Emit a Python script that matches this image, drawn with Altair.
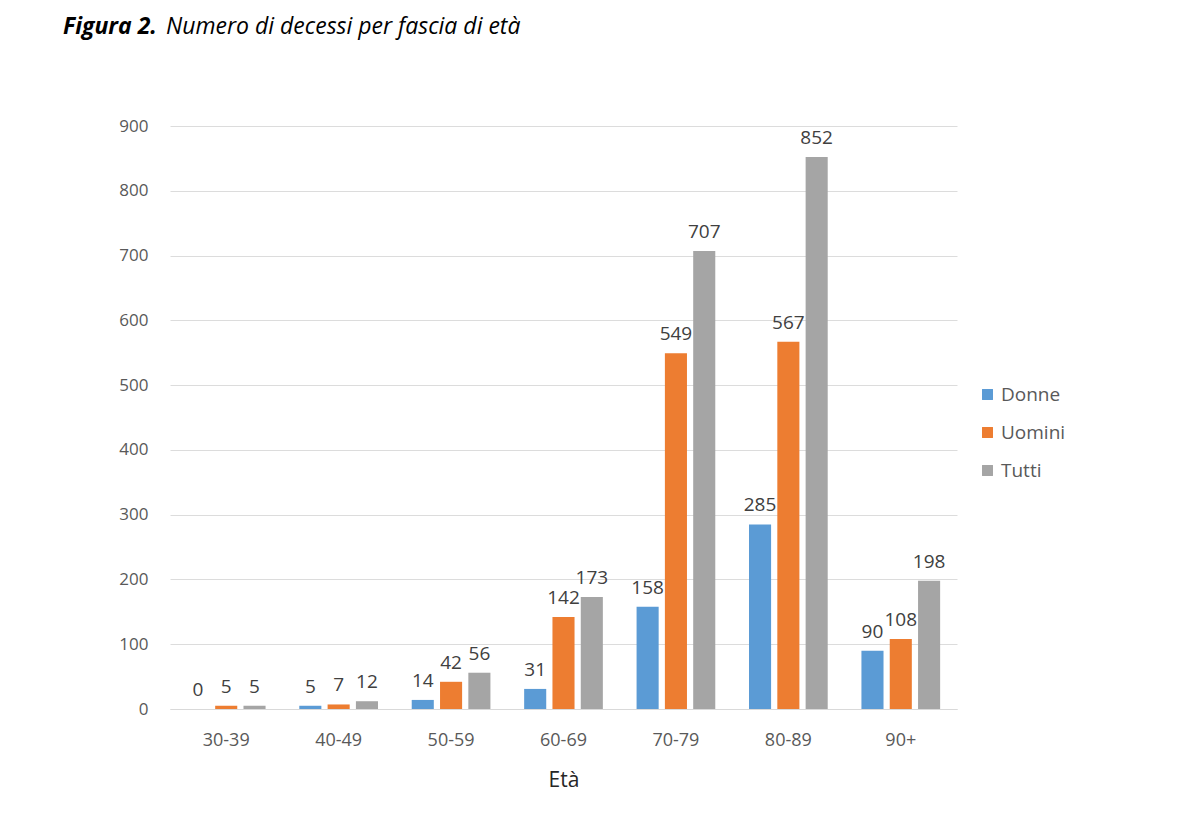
import altair as alt
import pandas as pd

categories = ["30-39", "40-49", "50-59", "60-69", "70-79", "80-89", "90+"]
series = ["Donne", "Uomini", "Tutti"]
donne = [0, 5, 14, 31, 158, 285, 90]
uomini = [5, 7, 42, 142, 549, 567, 108]
tutti = [5, 12, 56, 173, 707, 852, 198]
colors = ["#5b9bd5", "#ed7d31", "#a5a5a5"]

rows = []
for s, vals in zip(series, [donne, uomini, tutti]):
    for c, v in zip(categories, vals):
        rows.append({"Età": c, "Serie": s, "Valore": v})
df = pd.DataFrame(rows)

FONT = "Open Sans"

base = alt.Chart(df).encode(
    x=alt.X("Età:N", sort=categories,
            scale=alt.Scale(paddingInner=0.3, paddingOuter=0.15),
            axis=alt.Axis(title="Età", labelAngle=0, ticks=False, labelPadding=22,
                          labelFontSize=18, labelColor="#595959", labelFont=FONT,
                          domainColor="#d9d9d9", titleFontSize=21, titleFont=FONT,
                          titleFontWeight="normal", titleColor="#262626", titlePadding=20)),
    xOffset=alt.XOffset("Serie:N", sort=series, scale=alt.Scale(paddingInner=0.22)),
)

bars = base.mark_bar().encode(
    y=alt.Y("Valore:Q", scale=alt.Scale(domain=[0, 900]),
            axis=alt.Axis(title=None, values=list(range(0, 901, 100)), ticks=False,
                          domain=False, labelPadding=22, labelFontSize=17,
                          labelColor="#595959", labelFont=FONT, gridColor="#dcdcdc")),
    color=alt.Color("Serie:N", sort=series,
                    scale=alt.Scale(domain=series, range=colors),
                    legend=alt.Legend(title=None, orient="none", legendX=808, legendY=259,
                                      symbolType="square", symbolSize=120, labelFontSize=19,
                                      labelFont=FONT, labelColor="#595959", rowPadding=18,
                                      labelOffset=4, symbolStrokeWidth=0)),
)

labels = base.mark_text(dy=-19, fontSize=19, font=FONT, color="#404040").encode(
    y=alt.Y("Valore:Q"),
    text=alt.Text("Valore:Q"),
)

title_df = pd.DataFrame({"a": ["Figura 2."], "b": ["Numero di decessi per fascia di età"]})
t1 = alt.Chart(title_df).mark_text(align="left", baseline="middle", fontSize=23,
                                    font=FONT, fontStyle="italic", fontWeight="bold",
                                    color="black").encode(
    x=alt.value(-107), y=alt.value(-99), text="a:N")
t2 = alt.Chart(title_df).mark_text(align="left", baseline="middle", fontSize=23,
                                    font=FONT, fontStyle="italic",
                                    color="black").encode(
    x=alt.value(-4), y=alt.value(-99), text="b:N")

chart = alt.layer(bars, labels, t1, t2).properties(
    width=787, height=583,
    background="white",
    autosize=alt.AutoSizeParams(type="none"),
    padding={"left": 162, "top": 118, "right": 230, "bottom": 110},
).configure_view(stroke=None)

chart.save("out.html", embed_options={"renderer": "svg", "actions": False})
